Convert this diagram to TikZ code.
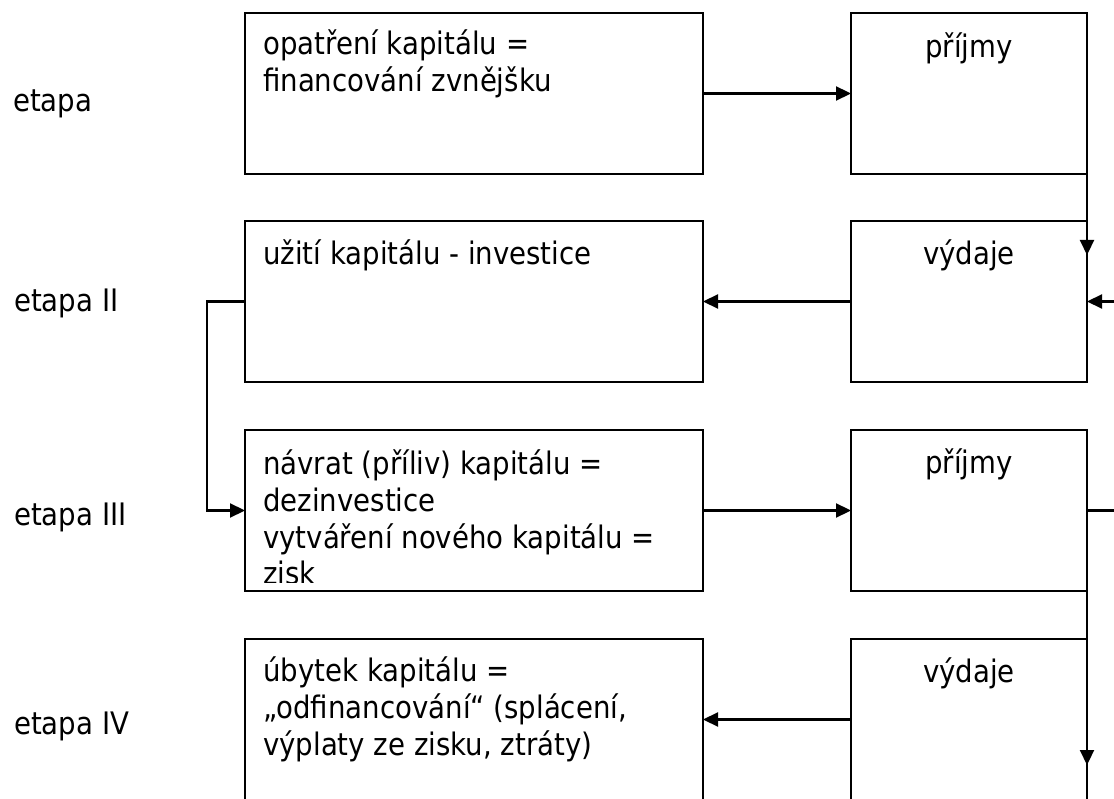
\documentclass[tikz,border=0pt]{standalone}
\usepackage{fontspec}
\setmainfont{DejaVu Sans}[FakeStretch=0.89]
\usetikzlibrary{arrows.meta}
\begin{document}
\begin{tikzpicture}[x=1pt,y=-1pt,
  box/.style={draw, line width=2.3pt, rectangle, inner sep=0pt, outer sep=0pt, anchor=north west},
  lbox/.style={box, minimum width=458pt, minimum height=161pt},
  rbox/.style={box, minimum width=236pt, minimum height=161pt},
  txt/.style={inner sep=0pt, font=\fontsize{31}{37}\selectfont},
  conn/.style={line width=2.2pt},
  arr/.style={conn, -{Triangle[length=15pt,width=14pt]}},
]
\useasboundingbox (0,0) rectangle (1114,799);
\clip (0,0) rectangle (1114,799);

% stage labels
\node[txt, anchor=base west] (l1) at (13,112) {etapa};
\node[txt, anchor=base west] (l2) at (14,312) {etapa II};
\node[txt, anchor=base west] (l3) at (14,525) {etapa III};
\node[txt, anchor=base west] (l4) at (14,734) {etapa IV};

% left column
\node[lbox] (A) at (245,13)  {};
\node[lbox] (B) at (245,221) {};
\node[lbox] (C) at (245,430) {};
\node[lbox] (D) at (245,639) {};

% right column
\node[rbox] (P1) at (851,13)  {};
\node[rbox] (V1) at (851,221) {};
\node[rbox] (P2) at (851,430) {};
\node[rbox] (V2) at (851,639) {};

% box texts
\node[txt, anchor=base west] (At) at ([xshift=18pt,yshift=-42pt]A.north west)
  {\begin{tabular}[t]{@{}l@{}}opatření kapitálu =\\ financování zvnějšku\end{tabular}};
\node[txt, anchor=base west] (Bt) at ([xshift=18pt,yshift=-44pt]B.north west)
  {užití kapitálu - investice};
\begin{scope}
  \clip (C.north west) rectangle ([yshift=8.5pt]C.south east);
  \node[txt, anchor=base west] (Ct) at ([xshift=18pt,yshift=-44pt]C.north west)
    {\begin{tabular}[t]{@{}l@{}}návrat (příliv) kapitálu =\\ dezinvestice\\ vytváření nového kapitálu =\\ zisk\end{tabular}};
\end{scope}
\node[txt, anchor=base west] (Dt) at ([xshift=18pt,yshift=-42pt]D.north west)
  {\begin{tabular}[t]{@{}l@{}}úbytek kapitálu =\\ „odfinancování“ (splácení,\\ výplaty ze zisku, ztráty)\end{tabular}};

\node[txt, anchor=base] (P1t) at ([yshift=-45pt]P1.north) {příjmy};
\node[txt, anchor=base] (V1t) at ([yshift=-44pt]V1.north) {výdaje};
\node[txt, anchor=base] (P2t) at ([yshift=-43pt]P2.north) {příjmy};
\node[txt, anchor=base] (V2t) at ([yshift=-43pt]V2.north) {výdaje};

% connectors
\draw[arr] (A.east) -- (A.east -| P1.west);
\draw[arr] (P1.south east) -- ++(0,81);
\coordinate (in1) at ([xshift=27pt]V1.east);
\draw[arr] (in1) -- (V1.east);
\draw[arr] (V1.west) -- (V1.west -| B.east);
\draw[arr] (B.west) -- ++(-38,0) |- (C.west);
\draw[arr] (C.east) -- (C.east -| P2.west);
\coordinate (out2) at ([xshift=27pt]P2.east);
\draw[conn] (P2.east) -- (out2);
\draw[arr] ([yshift=-46pt]P2.east) -- ([yshift=-126pt]V2.north east);
\draw[arr] (V2.west) -- (V2.west -| D.east);
\end{tikzpicture}
\end{document}
